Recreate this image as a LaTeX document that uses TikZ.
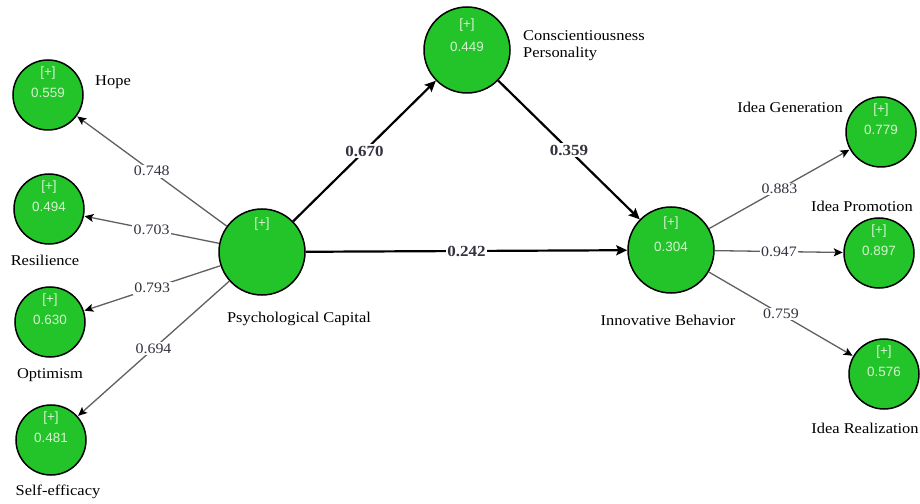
\documentclass[tikz,border=0pt]{standalone}
\usepackage{fontspec}
\setmainfont{Liberation Serif}
\newfontfamily\lblfont{Liberation Serif}[FakeStretch=1.1]
\newfontfamily\innerfont{Liberation Sans}
\usetikzlibrary{arrows.meta}
\definecolor{lvgreen}{HTML}{22C42A}
\definecolor{innertxt}{HTML}{D6F2D0}
\definecolor{loadgray}{HTML}{606060}
\definecolor{numcol}{HTML}{33333F}
\begin{document}
\begin{tikzpicture}[x=1bp,y=-1bp,
  lv/.style={circle,draw=black,line width=1.5bp,fill=lvgreen,inner sep=0pt},
  smalllv/.style={lv,minimum size=70bp},
  biglv/.style={lv,minimum size=86bp},
  intext/.style={font=\innerfont\fontsize{13.5}{13.5}\selectfont,text=innertxt,inner sep=0pt},
  nlabel/.style={font=\lblfont\fontsize{15}{17}\selectfont,text=black,inner sep=0pt},
  loadarrow/.style={draw=loadgray,line width=1.3bp,-{Stealth[length=9bp,width=8bp,inset=2bp,color=black]},shorten >=0.5bp},
  patharrow/.style={draw=black,line width=2.2bp,-{Stealth[length=11bp,width=10bp,inset=2bp]}},
  lval/.style={font=\lblfont\fontsize{14.5}{15}\selectfont,text=numcol,fill=white,inner sep=1.5bp},
  pval/.style={font=\lblfont\bfseries\fontsize{15.5}{15.5}\selectfont,text=numcol,fill=white,inner sep=1.5bp}
]
\useasboundingbox (0,0) rectangle (920,504);
\fill[white] (0,0) rectangle (920,504);

% latent variables
\node[smalllv] (hope) at (48,95) {};
\node[smalllv] (res) at (49,209) {};
\node[smalllv] (opt) at (50,322) {};
\node[smalllv] (self) at (51,440) {};
\node[biglv] (pc) at (262,252) {};
\node[biglv] (cp) at (467,50) {};
\node[biglv] (ib) at (671,250) {};
\node[smalllv] (ig) at (881,132) {};
\node[smalllv] (ip) at (879,253) {};
\node[smalllv] (ir) at (884,374) {};

% inner texts
\foreach \n/\v in {hope/0.559,res/0.494,opt/0.630,self/0.481,ig/0.779,ip/0.897,ir/0.576}{
  \node[intext] (\n-plus) at ([yshift=22bp]\n.center) {[+]};
  \node[intext] (\n-val) at ([yshift=2bp]\n.center) {\v};
}
\node[intext] (pc-plus) at ([yshift=28bp]pc.center) {[+]};
\node[intext] (cp-plus) at ([yshift=25bp]cp.center) {[+]};
\node[intext] (cp-val) at ([yshift=3bp]cp.center) {0.449};
\node[intext] (ib-plus) at ([yshift=27bp]ib.center) {[+]};
\node[intext] (ib-val) at ([yshift=3bp]ib.center) {0.304};

% names
\node[nlabel] (hope-l) at (113,82) {Hope};
\node[nlabel] (res-l) at (45,260) {Resilience};
\node[nlabel] (opt-l) at (50,375) {Optimism};
\node[nlabel] (self-l) at (58,492) {Self-efficacy};
\node[nlabel] (pc-l) at (299,319) {Psychological Capital};
\node[nlabel,anchor=west,align=left] (cp-l) at (523,46) {Conscientiousness\\Personality};
\node[nlabel] (ig-l) at (790,107) {Idea Generation};
\node[nlabel] (ip-l) at (862,206) {Idea Promotion};
\node[nlabel] (ib-l) at (668,320) {Innovative Behavior};
\node[nlabel] (ir-l) at (865,428) {Idea Realization};

% loadings
\draw[loadarrow] (pc) -- node[lval] {0.748} (hope);
\draw[loadarrow] (pc) -- node[lval] {0.703} (res);
\draw[loadarrow] (pc) -- node[lval] {0.793} (opt);
\draw[loadarrow] (pc) -- node[lval] {0.694} (self);
\draw[loadarrow] (ib) -- node[lval] {0.883} (ig);
\draw[loadarrow] (ib) -- node[lval] {0.947} (ip);
\draw[loadarrow] (ib) -- node[lval] {0.759} (ir);

% structural paths
\draw[patharrow] (pc) -- node[pval] {0.670} (cp);
\draw[patharrow] (cp) -- node[pval] {0.359} (ib);
\draw[patharrow] (pc) -- node[pval] {0.242} (ib);
\end{tikzpicture}
\end{document}
